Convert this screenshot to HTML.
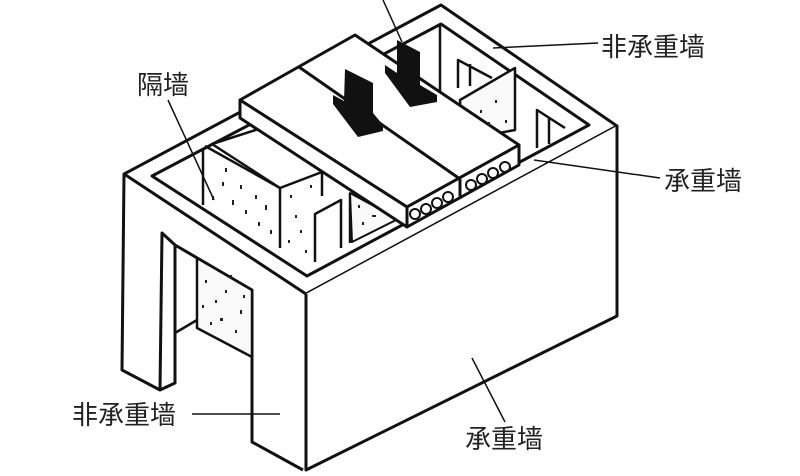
<!DOCTYPE html>
<html><head><meta charset="utf-8"><style>
body{margin:0;background:#fff;}
svg{display:block}
text{font-family:"Liberation Sans","Noto Sans CJK SC",sans-serif;font-size:26px;fill:#222;}
</style></head><body>
<svg width="800" height="476" viewBox="0 0 800 476" xmlns="http://www.w3.org/2000/svg">
<g fill="none" stroke="#111" stroke-width="3" stroke-linejoin="round">
<polygon points="124,174 441,5 617,126 306,294" fill="#fff"/>
<polygon points="152,176 441,24 589,125 307,276" fill="#fff"/>
<polyline points="306,294 306,470 617,316 617,126" fill="#fff"/>
<polyline points="124,174 122,370 160,390 175,383 175,245 252,290 252,442 303,470"/>
<polyline points="160,390 162,233 175,245"/>
<line x1="175" y1="333" x2="197" y2="320" stroke-width="2.5"/>
<polygon points="197,258 252,290 252,357 197,328" fill="#fafafa" stroke-width="2.5"/>
<!-- partition block -->
<polygon points="212,144 262,128 322,172 280,188" fill="#fff" stroke-width="2.5"/>
<line x1="203" y1="148" x2="203" y2="205" stroke-width="2.5"/>
<line x1="205" y1="146" x2="280" y2="188" stroke-width="2.5"/>
<line x1="280" y1="188" x2="280" y2="248" stroke-width="2.5"/>
<line x1="322" y1="172" x2="322" y2="196" stroke-width="2.5"/>
<polyline points="315,262 315,214 341,200 341,248" stroke-width="2.5"/>
<line x1="350" y1="193" x2="350" y2="243" stroke-width="2.5"/>
<polygon points="350,193 398,219 352,242" fill="#fafafa" stroke-width="2"/>
<!-- right back inner -->
<line x1="440" y1="24" x2="440" y2="92" stroke-width="2.5"/>
<polygon points="460,100 515,68 515,130 462,140" fill="#fafafa" stroke-width="2.5"/>
<polyline points="458,88 458,60 492,78" stroke-width="2.5"/>
<line x1="470" y1="64" x2="470" y2="86" stroke-width="2.5"/>
<polyline points="537,148 537,110 565,128" stroke-width="2.5"/>
<line x1="549" y1="118" x2="549" y2="144" stroke-width="2.5"/>
<!-- slab -->
<polygon points="240,100 355,35 519,145 407,207" fill="#fff"/>
<polygon points="240,100 407,207 407,227 240,118" fill="#fff"/>
<polygon points="407,207 519,145 519,165 407,227" fill="#fff"/>
<line x1="299" y1="67" x2="460" y2="179"/>
<line x1="460" y1="179" x2="460" y2="199"/>
</g>
<g fill="none" stroke="#111" stroke-width="2">
<circle cx="415" cy="214" r="5"/><circle cx="426" cy="209" r="5"/><circle cx="437" cy="203" r="5"/><circle cx="448" cy="197" r="5"/>
<circle cx="471" cy="185" r="5"/><circle cx="482" cy="179" r="5"/><circle cx="493" cy="173" r="5"/><circle cx="505" cy="167" r="5"/>
</g>
<!-- arrows -->
<polygon points="345,69 373,83 373,113 383,125 383,131 358,137 333,104 333,95 344,101" fill="#111"/>
<polygon points="397,40 420,52 420,85 437,95 437,102 410,107 385,73 385,65 397,73" fill="#111"/>
<!-- dots -->
<g fill="#222">
<rect x="212" y="196" width="2" height="4"/><rect x="222" y="182" width="2" height="4"/><rect x="232" y="200" width="2" height="5"/><rect x="245" y="210" width="2" height="4"/><rect x="258" y="222" width="2" height="4"/><rect x="265" y="205" width="2" height="5"/><rect x="225" y="168" width="2" height="4"/><rect x="240" y="185" width="2" height="4"/><rect x="255" y="195" width="2" height="4"/><rect x="270" y="230" width="2" height="4"/>
<rect x="290" y="195" width="2" height="3"/><rect x="300" y="230" width="2" height="3"/><rect x="305" y="250" width="2" height="3"/><rect x="295" y="215" width="2" height="3"/><rect x="310" y="185" width="2" height="3"/><rect x="288" y="240" width="2" height="3"/>
<rect x="205" y="280" width="2" height="3"/><rect x="215" y="300" width="2" height="3"/><rect x="225" y="290" width="2" height="3"/><rect x="235" y="330" width="2" height="3"/><rect x="240" y="310" width="2" height="4"/><rect x="202" y="305" width="2" height="3"/><rect x="220" y="318" width="3" height="3"/><rect x="243" y="295" width="2" height="3"/><rect x="210" y="322" width="2" height="3"/><rect x="230" y="275" width="2" height="3"/>
<rect x="480" y="110" width="2" height="3"/><rect x="495" y="100" width="2" height="3"/><rect x="505" y="120" width="2" height="3"/><rect x="488" y="122" width="2" height="3"/>
<rect x="358" y="205" width="2" height="3"/><rect x="362" y="222" width="2" height="3"/><rect x="372" y="215" width="4" height="2"/>
</g>
<g stroke="#111" stroke-width="1.5">
<line x1="383" y1="0" x2="402" y2="42"/>
<line x1="493" y1="48" x2="598" y2="43"/>
<line x1="168" y1="100" x2="214" y2="200"/>
<line x1="534" y1="160" x2="660" y2="178"/>
<line x1="192" y1="414" x2="280" y2="414"/>
<line x1="472" y1="358" x2="505" y2="422"/>
</g>
<text x="601" y="56">非承重墙</text>
<text x="137" y="94">隔墙</text>
<text x="664" y="190">承重墙</text>
<text x="72" y="424">非承重墙</text>
<text x="465" y="448">承重墙</text>
</svg>
</body></html>
